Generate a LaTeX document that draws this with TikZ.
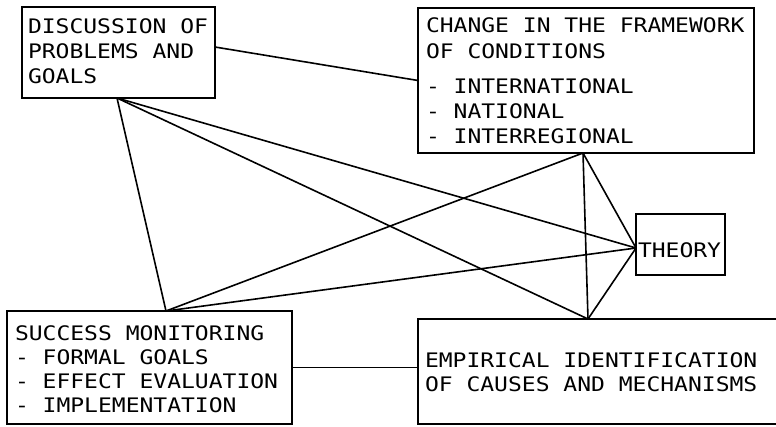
\documentclass[tikz,border=0pt]{standalone}
\usepackage{fontspec}
\setmonofont{DejaVu Sans Mono}[FakeStretch=1.15]
\usetikzlibrary{calc}
\begin{document}
\begin{tikzpicture}[x=1pt,y=-1pt,
  box/.style={draw, rectangle, line width=1.9pt, inner sep=0pt, outer sep=0pt, anchor=north west},
  link/.style={line width=1.6pt, line cap=round},
  txt/.style={anchor=base west, inner sep=0pt, outer sep=0pt, font=\ttfamily\fontsize{20}{24}\selectfont}]
\useasboundingbox (0,0) rectangle (776,426);
\clip (0,0) rectangle (776,426);
% boxes
\node[box, minimum width=193pt, minimum height=91pt]  (disc) at (22,7) {};
\node[box, minimum width=336pt, minimum height=145pt] (chg)  at (418,8) {};
\node[box, minimum width=89pt,  minimum height=61pt]  (th)   at (636,214) {};
\node[box, minimum width=285pt, minimum height=113pt] (succ) at (7,311) {};
\node[box, minimum width=400pt, minimum height=105pt] (emp)  at (418,319) {};
% texts
\node[txt] (d1) at (28,33) {DISCUSSION OF};
\node[txt] (d2) at (28,58) {PROBLEMS AND};
\node[txt] (d3) at (28,83) {GOALS};
\node[txt] (c1) at (426,32) {CHANGE IN THE FRAMEWORK};
\node[txt] (c2) at (426,58) {OF CONDITIONS};
\node[txt] (c3) at (426,93) {- INTERNATIONAL};
\node[txt] (c4) at (426,118) {- NATIONAL};
\node[txt] (c5) at (426,143) {- INTERREGIONAL};
\node[txt] (t1) at (638,257) {THEORY};
\node[txt] (s1) at (15,340) {SUCCESS MONITORING};
\node[txt] (s2) at (15,364) {- FORMAL GOALS};
\node[txt] (s3) at (15,388) {- EFFECT EVALUATION};
\node[txt] (s4) at (15,412) {- IMPLEMENTATION};
\node[txt] (e1) at (425,367) {EMPIRICAL IDENTIFICATION};
\node[txt] (e2) at (425,391) {OF CAUSES AND MECHANISMS};
% junction points on the boxes
\coordinate (dR) at ([yshift=5.5pt]disc.east);
\coordinate (dB) at ([xshift=-1.5pt]disc.south);
\coordinate (cL) at (chg.west);
\coordinate (cB) at ([xshift=-3pt]chg.south);
\coordinate (tL) at ([yshift=-3.5pt]th.west);
\coordinate (sT) at ([xshift=16.5pt]succ.north);
\coordinate (eT) at ([xshift=170pt]emp.north west);
% connectors
\draw[link] (dR) -- (cL);
\draw[link] (dB) -- (sT);
\draw[link] (dB) -- (tL);
\draw[link] (dB) -- (eT);
\draw[link] (sT) -- (cB);
\draw[link] (sT) -- (tL);
\draw[link] (cB) -- (tL);
\draw[link] (cB) -- (eT);
\draw[link] (tL) -- (eT);
\draw[link] (succ.east) -- (succ.east -| emp.west);
\end{tikzpicture}
\end{document}
